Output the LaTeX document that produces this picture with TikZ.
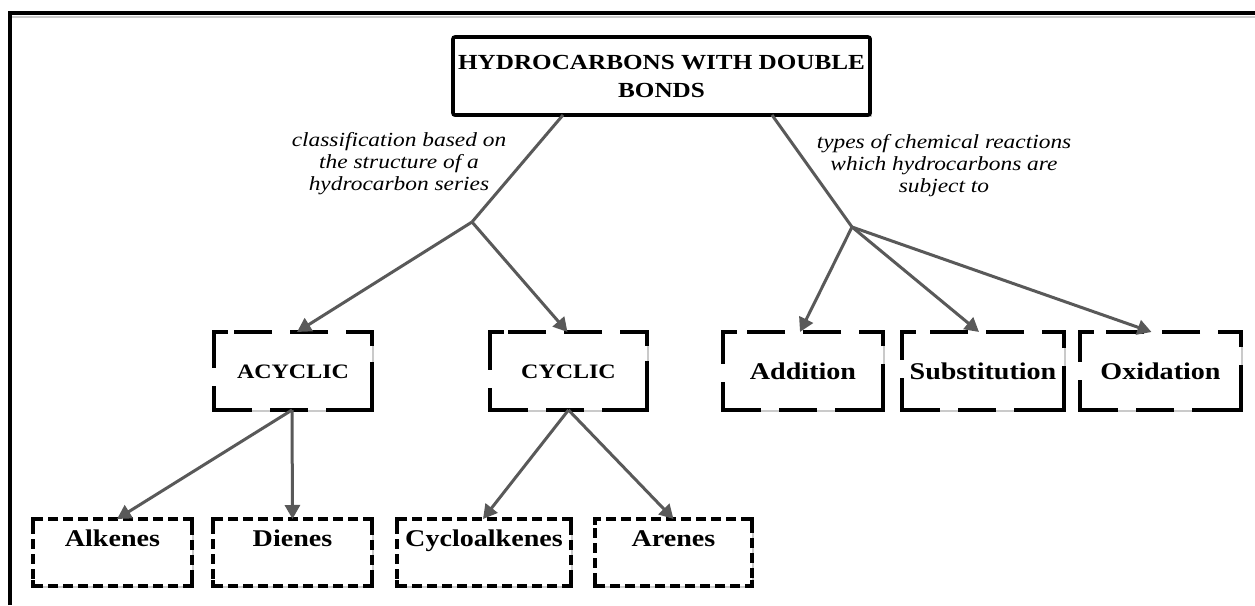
\documentclass[tikz,border=0pt]{standalone}
\usepackage{fontspec}
\setmainfont{Liberation Serif}[FakeStretch=1.17]
\usetikzlibrary{arrows.meta,calc,backgrounds}

\definecolor{linkgray}{HTML}{595959}
\definecolor{shadegray}{HTML}{CACACA}

% solid L-shaped strokes on the four corners of a dashed box
\newcommand\boxcorners[2]{%
  \draw[cornerstroke] ([yshift=-#2]#1.north west) -- (#1.north west) -- ([xshift=#2]#1.north west);
  \draw[cornerstroke] ([xshift=-#2]#1.north east) -- (#1.north east) -- ([yshift=-#2]#1.north east);
  \draw[cornerstroke] ([yshift=#2]#1.south east) -- (#1.south east) -- ([xshift=-#2]#1.south east);
  \draw[cornerstroke] ([xshift=#2]#1.south west) -- (#1.south west) -- ([yshift=#2]#1.south west);
}
% light grey edge along the right and bottom sides of a box
\newcommand\boxshade[1]{%
  \draw[shadeline] ([xshift=1.1pt]#1.north east) -- ([xshift=1.1pt,yshift=-1.1pt]#1.south east)
    -- ([yshift=-1.1pt]#1.south west);
}

\begin{document}
\begin{tikzpicture}[x=1pt,y=-1pt,
  conn/.style={draw=linkgray, line width=3pt},
  arr/.style={conn, -{Triangle[length=14pt,width=15pt]}},
  mainbox/.style={draw, line width=3.6pt, rounded corners=2pt, outer sep=0pt, inner sep=0pt,
    minimum width=417pt, minimum height=78pt, align=center,
    font=\bfseries\fontsize{21.5}{28}\selectfont},
  midbox/.style={draw, line width=3.6pt, dash pattern=on 38pt off 18pt, outer sep=0pt, inner sep=0pt,
    minimum height=78pt, text height=16pt, text depth=0pt,
    font=\bfseries\fontsize{24}{28}\selectfont},
  classbox/.style={midbox, text height=14pt, font=\bfseries\fontsize{20.5}{24}\selectfont},
  leafbox/.style={draw, line width=3.6pt, dash pattern=on 10pt off 5pt, outer sep=0pt, inner sep=0pt,
    minimum height=67pt, text height=17pt, text depth=29pt,
    font=\bfseries\fontsize{24}{28}\selectfont},
  note/.style={align=center, inner sep=0pt, font=\itshape\fontsize{20}{22}\selectfont},
  cornerstroke/.style={line width=3.6pt, line join=miter},
  shadeline/.style={draw=shadegray, line width=1.6pt},
  frameline/.style={line width=3.8pt, line join=miter}
]
\useasboundingbox (0,0) rectangle (1255,605);

% outer frame (top and left edges)
\draw[draw=shadegray, line width=1.5pt] (12,16.8) -- (1255,16.8);
\draw[frameline] (10,605) -- (10,13) -- (1255,13);

% root
\node[mainbox] (top) at (661.5,76) {HYDROCARBONS WITH DOUBLE\\BONDS};

% edge labels
\node[note] (lblstruct) at (399,164) {classification based on\\the structure of a\\hydrocarbon series};
\node[note] (lblreact) at (944,165.5) {types of chemical reactions\\which hydrocarbons are\\subject to};

% second level
\node[classbox, minimum width=158pt] (acyclic) at (293,371) {ACYCLIC};
\node[classbox, minimum width=157pt] (cyclic) at (568.5,371) {CYCLIC};
\node[midbox, minimum width=160pt] (addition) at (803,371) {Addition};
\node[midbox, minimum width=162pt] (substitution) at (983,371) {Substitution};
\node[midbox, minimum width=161pt] (oxidation) at (1160.5,371) {Oxidation};

% third level
\node[leafbox, minimum width=159pt] (alkenes) at (112.5,552.5) {Alkenes};
\node[leafbox, minimum width=159pt] (dienes) at (292.5,552.5) {Dienes};
\node[leafbox, minimum width=174pt] (cycloalkenes) at (484,552.5) {Cycloalkenes};
\node[leafbox, minimum width=157pt] (arenes) at (673.5,552.5) {Arenes};

\foreach \n in {acyclic,cyclic,addition,substitution,oxidation}{\boxcorners{\n}{14pt}}
\foreach \n in {alkenes,dienes,cycloalkenes,arenes}{\boxcorners{\n}{6pt}}

\begin{scope}[on background layer]
  \foreach \n in {top,acyclic,cyclic,addition,substitution,oxidation,alkenes,dienes,cycloalkenes,arenes}{\boxshade{\n}}
\end{scope}

% branch points
\coordinate (forkstruct) at (472,222);
\coordinate (forkreact) at (852,227);

% connectors
\draw[conn] ([xshift=-98.5pt]top.south) -- (forkstruct);
\draw[arr] (forkstruct) -- ([xshift=4pt]acyclic.north);
\draw[arr] (forkstruct) -- ([xshift=-1pt]cyclic.north);

\draw[conn] ([xshift=110.5pt]top.south) -- (forkreact);
\draw[arr] (forkreact) -- ([xshift=-3pt]addition.north);
\draw[arr] (forkreact) -- ([xshift=-4pt]substitution.north);
\draw[arr] (forkreact) -- ([xshift=-9pt]oxidation.north);

\draw[arr] ([xshift=-1pt]acyclic.south) -- ([xshift=4.5pt]alkenes.north);
\draw[arr] ([xshift=-1pt]acyclic.south) -- (dienes.north);
\draw[arr] (cyclic.south) -- ([xshift=-1pt]cycloalkenes.north);
\draw[arr] (cyclic.south) -- (arenes.north);
\end{tikzpicture}
\end{document}
